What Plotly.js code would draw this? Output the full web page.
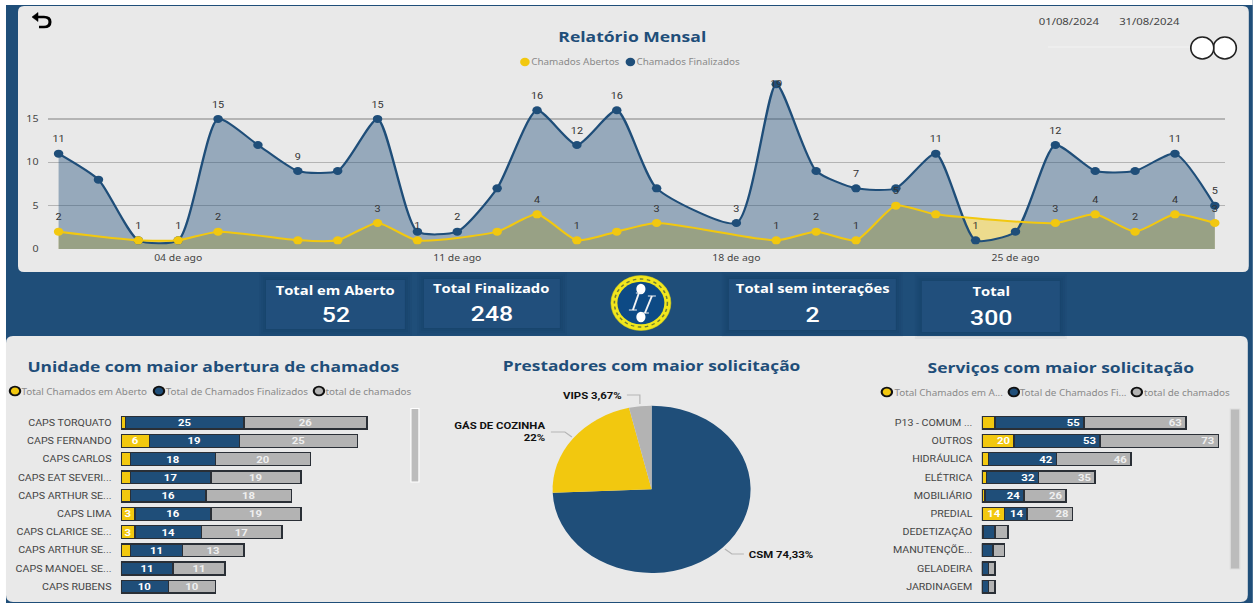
<!DOCTYPE html>
<html><head><meta charset="utf-8">
<script src="https://cdn.plot.ly/plotly-3.0.1.min.js"></script>
<style>html,body{margin:0;padding:0;background:#fff;overflow:hidden;width:1253px;height:603px}
#chart{transform-origin:0 0;transform:scale(1.183,1)}</style>
</head><body><div id="chart"></div>
<script>
// ---- data ----
const finDates=['2024-08-01','2024-08-02','2024-08-03','2024-08-04','2024-08-05','2024-08-06','2024-08-07','2024-08-08','2024-08-09','2024-08-10','2024-08-11','2024-08-12','2024-08-13','2024-08-14','2024-08-15','2024-08-16','2024-08-18','2024-08-19','2024-08-20','2024-08-21','2024-08-22','2024-08-23','2024-08-24','2024-08-25','2024-08-26','2024-08-27','2024-08-28','2024-08-29','2024-08-30'];
const finValues=[11,8,1,1,15,12,9,9,15,2,2,7,16,12,16,7,3,19,9,7,7,11,1,2,12,9,9,11,5];
const finLabels=['11','','1','1','15','','9','','15','','2','','16','12','16','','3','19','','7','','11','1','','12','','','11','5'];
const openDates=['2024-08-01','2024-08-03','2024-08-04','2024-08-05','2024-08-07','2024-08-08','2024-08-09','2024-08-10','2024-08-12','2024-08-13','2024-08-14','2024-08-15','2024-08-16','2024-08-19','2024-08-20','2024-08-21','2024-08-22','2024-08-23','2024-08-26','2024-08-27','2024-08-28','2024-08-29','2024-08-30'];
const openValues=[2,1,1,2,1,1,3,1,2,4,1,2,3,1,2,1,5,4,3,4,2,4,3];
const openLabels=['2','','','2','','','3','1','','4','1','','3','1','2','1','5','','3','4','2','4','3'];
const dateTicks=['2024-08-04','2024-08-11','2024-08-18','2024-08-25'];
const dateTickText=['04 de ago','11 de ago','18 de ago','25 de ago'];

const unitNames=['CAPS TORQUATO','CAPS FERNANDO','CAPS CARLOS','CAPS EAT SEVERI...','CAPS ARTHUR SE...','CAPS LIMA','CAPS CLARICE SE...','CAPS ARTHUR SE...','CAPS MANOEL SE...','CAPS RUBENS'];
const unitOpen=[1,6,2,2,2,3,3,2,0,0];
const unitFin=[25,19,18,17,16,16,14,11,11,10];
const unitTotal=[26,25,20,19,18,19,17,13,11,10];

const servNames=['P13 - COMUM ...','OUTROS','HIDRÁULICA','ELÉTRICA','MOBILIÁRIO','PREDIAL','DEDETIZAÇÃO','MANUTENÇÕE...','GELADEIRA','JARDINAGEM'];
const servOpen=[8,20,4,3,2,14,1,0,0,0];
const servFin=[55,53,42,32,24,14,7,7,4,4];
const servTotal=[63,73,46,35,26,28,8,7,4,4];

const pieLabels=['CSM','GÁS DE COZINHA','VIPS'];
const pieValues=[223,66,11];

const kpis=[['Total em Aberto','52'],['Total Finalizado','248'],['Total sem interações','2'],['Total','300']];

// ---- style ----
const BLUE='#1f4e79',YEL='#f2c80f',GREY='#b3b3b3',PANEL='#e9e9e9',EDGE='#2a2f36';
const W=1253,H=603;
const X=p=>p/W, Y=p=>1-p/H, P=(x,y)=>X(x)+','+Y(y);
const TXT='"Noto Sans","Open Sans",sans-serif', HEAD='"Open Sans","Noto Sans",sans-serif', NUM='Roboto,sans-serif';

const shapes=[],annotations=[];
const rect=(x0,y0,x1,y1,fill,line,lw,layer)=>shapes.push({type:'rect',xref:'paper',yref:'paper',x0:X(x0),x1:X(x1),y0:Y(y0),y1:Y(y1),fillcolor:fill,line:{color:line||fill,width:lw===undefined?0:lw},layer:layer||'below'});
const oval=(cx,cy,rx,ry,fill,line,lw,dash)=>shapes.push({type:'circle',xref:'paper',yref:'paper',x0:X(cx-rx),x1:X(cx+rx),y0:Y(cy+ry),y1:Y(cy-ry),fillcolor:fill,line:{color:line||fill,width:lw||0,dash:dash||'solid'},layer:'above'});
const path=(d,fill,line,lw,layer)=>shapes.push({type:'path',xref:'paper',yref:'paper',path:d,fillcolor:fill||'rgba(0,0,0,0)',line:{color:line||'rgba(0,0,0,0)',width:lw||0},layer:layer||'above'});
const round=(x0,y0,x1,y1,r,fill)=>path('M'+P(x0+r,y0)+' L'+P(x1-r,y0)+' Q'+P(x1,y0)+' '+P(x1,y0+r)+' L'+P(x1,y1-r)+' Q'+P(x1,y1)+' '+P(x1-r,y1)+' L'+P(x0+r,y1)+' Q'+P(x0,y1)+' '+P(x0,y1-r)+' L'+P(x0,y0+r)+' Q'+P(x0,y0)+' '+P(x0+r,y0)+' Z',fill,null,0,'below');
const label=(x,y,text,size,color,opts)=>annotations.push(Object.assign({xref:'paper',yref:'paper',x:X(x),y:Y(y),text,showarrow:false,xanchor:'center',yanchor:'middle',font:{size,color,family:TXT},borderpad:0},opts||{}));
const leg=(cx,cy,tx,text,color,outline)=>{oval(cx,cy,outline?5.2:4.8,outline?4.4:4.2,color,outline?'#111':color,outline?1.8:0);label(tx-1.5,cy,text,8.35,'#8a8a8a',{xanchor:'left'});};

// page frame
rect(0,0,W,5,'#ffffff');
rect(0,0,6,H,'#ffffff');
round(18,6,1249,272,6,PANEL);
round(6,336,1248,602,7,PANEL);

// KPI cards
const cards=[[266,280,405,329,290.5,315],[424,279,560,328,288.5,314],[729,279,896,330,288.5,315],[922,281,1060,332,291,317.5]];
cards.forEach((c,i)=>{
  [7,5,3,1].forEach(s=>rect(c[0]-s,c[1]-s,c[2]+s,c[3]+s,'rgba(10,30,55,0.04)'));
  rect(c[0],c[1],c[2],c[3],'#214f7c');
  label((c[0]+c[2])/2,c[4],'<b>'+kpis[i][0]+'</b>',12.5,'#ffffff',{font:{size:12.5,color:'#fff',family:HEAD}});
  label((c[0]+c[2])/2,c[5],kpis[i][1],21,'#ffffff',{font:{size:21,color:'#fff',family:NUM,weight:500}});
});

// logo
oval(641,303,30,27.5,'#f1e61c','#d8cf1a',0.5);
oval(641,303,26.5,24,'#f1e61c','#6f7d34',1.3,'dot');
oval(641,303,23.5,21.3,'#0d4a85');
oval(641,289,4.6,5.2,'#ffffff');oval(641,317,4.6,5.2,'#ffffff');
path('M'+P(639,293)+' L'+P(633,310),null,'#f4f4f4',1.6);
path('M'+P(652,296)+' L'+P(645,313),null,'#f4f4f4',1.6);
path('M'+P(636,293)+' L'+P(643,293),null,'#f4f4f4',1);
path('M'+P(629,310)+' L'+P(637,310),null,'#f4f4f4',1);
path('M'+P(648,296)+' L'+P(656,296),null,'#f4f4f4',1);
path('M'+P(641,313)+' L'+P(649,313),null,'#f4f4f4',1);

// back arrow
path('M'+P(34,17)+' L'+P(44,17)+' Q'+P(50,17)+' '+P(50,22)+' Q'+P(50,27)+' '+P(44,27)+' L'+P(39,27),null,'#000',2.6);
path('M'+P(32,17)+' L'+P(38,12.5)+' L'+P(38,21.5)+' Z','#000','#000',0.5);

// date range and toggle
label(1070,21.5,'01/08/2024',9.6,'#444444');
label(1150,21.5,'31/08/2024',9.6,'#444444');
path('M'+P(1048,47)+' L'+P(1190,47),null,'#f3f3f3',1);
oval(1225,48,11.5,11,'#ffffff','#222',1.4);
oval(1202.5,48,11.5,11,'#ffffff','#222',1.4);

// titles
const hfont=s=>({font:{size:s,color:BLUE,family:HEAD}});
label(632,36,'<b>Relatório Mensal</b>',14.8,BLUE,hfont(14.8));
label(213.8,365.7,'<b>Unidade com maior abertura de chamados</b>',14.75,BLUE,hfont(14.75));
label(652,365,'<b>Prestadores com maior solicitação</b>',14.65,BLUE,hfont(14.65));
label(1061,366.7,'<b>Serviços com maior solicitação</b>',14.75,BLUE,hfont(14.75));

// legends
leg(525,62,531.5,'Chamados Abertos',YEL,false);
leg(630.5,62,637,'Chamados Finalizados',BLUE,false);
leg(15,391,22,'Total Chamados em Aberto',YEL,true);
leg(159,391,166,'Total de Chamados Finalizados',BLUE,true);
leg(319,391,326,'total de chamados',GREY,true);
leg(887,392,894.5,'Total Chamados em A...',YEL,true);
leg(1014,392,1020.5,'Total de Chamados Fi...',BLUE,true);
leg(1137,392,1145,'total de chamados',GREY,true);

// scrollbars
rect(411,408.5,419,482,'#bcbcbc','#ffffff',1,'above');
rect(1230.5,409,1240,569,'#bcbcbc','#dddddd',1,'above');

// pie callouts
const callout={size:9.6,color:'#111',family:NUM};
label(623,395,'<b>VIPS 3,67%</b>',9.6,'#111',{xanchor:'right',font:callout});
label(547,431.5,'<b>GÁS DE COZINHA<br>22%</b>',9.6,'#111',{xanchor:'right',align:'right',font:callout});
label(748,554.5,'<b>CSM 74,33%</b>',9.6,'#111',{xanchor:'left',font:callout});
path('M'+P(627,395)+' L'+P(640,395)+' L'+P(640,404),null,'#b5b5b5',1);
path('M'+P(551,432)+' L'+P(565,432)+' L'+P(572,437),null,'#b5b5b5',1);
path('M'+P(725,549)+' L'+P(732,554)+' L'+P(744,554),null,'#b5b5b5',1);

// ---- traces ----
const SMOOTH=0.6;
const traces=[];
// yellow area under the blue one, its line and points above
traces.push({type:'scatter',mode:'lines',x:openDates,y:openValues,line:{shape:'spline',smoothing:SMOOTH,width:0,color:YEL},fill:'tozeroy',fillcolor:'rgba(242,200,15,0.42)',hoverinfo:'skip',showlegend:false});
traces.push({type:'scatter',mode:'lines+markers',name:'Chamados Finalizados',x:finDates,y:finValues,
  line:{shape:'spline',smoothing:SMOOTH,width:2,color:BLUE},marker:{size:8,color:BLUE},fill:'tozeroy',fillcolor:'rgba(31,78,121,0.41)',cliponaxis:false,showlegend:false});
traces.push({type:'scatter',mode:'lines+markers',name:'Chamados Abertos',x:openDates,y:openValues,
  line:{shape:'spline',smoothing:SMOOTH,width:2,color:YEL},marker:{size:8,color:YEL},cliponaxis:false,showlegend:false});
// data labels, held a little further from the points than the drawn markers
const labelTrace=(x,y,text,pos)=>({type:'scatter',mode:'markers+text',x,y,text,textposition:pos,textfont:{size:9.2,color:'#333',family:NUM},marker:{size:13,opacity:0},cliponaxis:false,hoverinfo:'skip',showlegend:false});
traces.push(labelTrace(finDates,finValues,finLabels,finValues.map(v=>v===19?'middle center':'top center')));
traces.push(labelTrace(openDates,openValues,openLabels,'top center'));

function stacked(xa,ya,names,a,b,c,minA,minB,minC,anchor){
  const idx=names.map((_,i)=>i);
  const mk=(vals,color,min)=>({type:'bar',orientation:'h',xaxis:xa,yaxis:ya,y:idx,x:vals,
    marker:{color,line:{color:EDGE,width:1.3}},text:vals.map(v=>v>=min?String(v):''),textposition:'inside',insidetextanchor:anchor,textangle:0,constraintext:'none',
    insidetextfont:{size:9.6,color:color===GREY?'#efefef':'#ffffff',family:NUM,weight:700},cliponaxis:false,showlegend:false,hoverinfo:'x+y'});
  traces.push(mk(a,YEL,minA),mk(b,BLUE,minB),mk(c,GREY,minC));
}
stacked('x2','y2',unitNames,unitOpen,unitFin,unitTotal,3,1,1,'middle');
stacked('x3','y3',servNames,servOpen,servFin,servTotal,14,14,26,'end');

traces.push({type:'pie',labels:pieLabels,values:pieValues,sort:false,direction:'clockwise',rotation:0,textinfo:'none',
  marker:{colors:[BLUE,YEL,GREY],line:{width:0}},domain:{x:[X(552.7),X(750.7)],y:[Y(573),Y(405.6)]},showlegend:false});

const catAxis=(dom,names)=>({domain:dom,anchor:'free',range:[9.5,-0.5],tickmode:'array',tickvals:names.map((_,i)=>i),ticktext:names,showgrid:false,zeroline:false,showline:false,ticks:'',ticklabelstandoff:7,tickfont:{size:9,color:'#454545',family:NUM}});

const layout={width:Math.round(W/1.183),height:H,margin:{l:0,r:0,t:0,b:0,pad:0},paper_bgcolor:BLUE,plot_bgcolor:'rgba(0,0,0,0)',
  barmode:'stack',bargap:0.3,showlegend:false,shapes,annotations,
  xaxis:{domain:[X(48),X(1225)],anchor:'y',type:'date',range:['2024-07-31 17:37','2024-08-30 06:00'],tickmode:'array',tickvals:dateTicks,ticktext:dateTickText,showgrid:false,zeroline:false,showline:false,ticks:'',tickfont:{size:8.8,color:'#454545',family:TXT},ticklabelstandoff:2},
  yaxis:{domain:[Y(249),Y(75.6)],anchor:'x',range:[0,20],tickmode:'array',tickvals:[0,5,10,15],ticktext:['0','5','10','15'],gridcolor:'#b4b4b4',gridwidth:1.4,zeroline:false,showline:false,ticks:'',ticklabelstandoff:7,tickfont:{size:9,color:'#454545',family:TXT}},
  xaxis2:{domain:[X(121),X(405)],anchor:'y2',range:[0,60],visible:false},
  yaxis2:Object.assign(catAxis([Y(595.8),Y(413.6)],unitNames),{anchor:'x2'}),
  xaxis3:{domain:[X(982),X(1225)],anchor:'y3',range:[0,150],visible:false},
  yaxis3:Object.assign(catAxis([Y(595.8),Y(413.6)],servNames),{anchor:'x3'})
};
Plotly.newPlot('chart',traces,layout,{displayModeBar:false,staticPlot:true});
</script></body></html>
